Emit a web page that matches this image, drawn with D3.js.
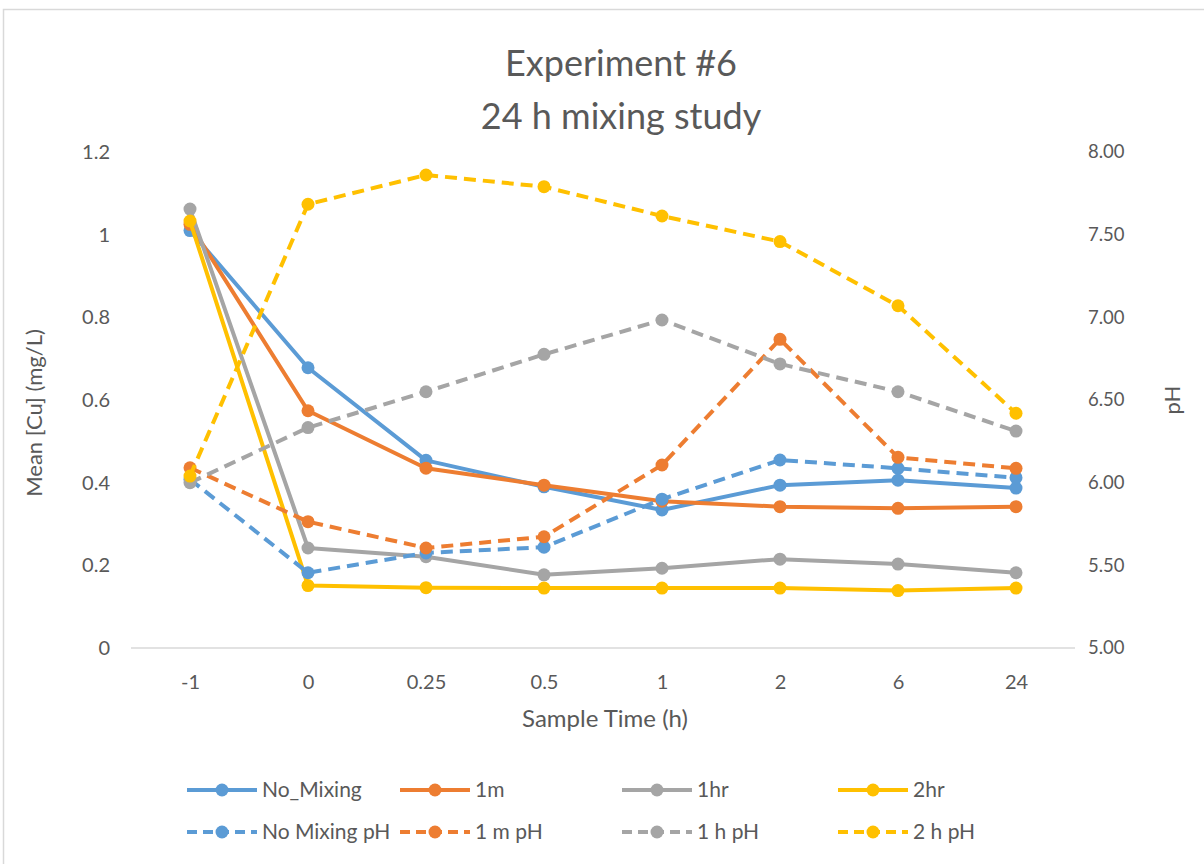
<!DOCTYPE html>
<html>
<head>
<meta charset="utf-8">
<script src="https://cdn.jsdelivr.net/npm/d3@7"></script>
<style>
  body { margin: 0; background: #fff; }
  svg { font-family: Lato, "Open Sans", sans-serif; }
</style>
</head>
<body>
<script>
const categories = ['-1', '0', '0.25', '0.5', '1', '2', '6', '24'];

// copper, left axis (mg/L)
const noMixing = [1.01, 0.678, 0.454, 0.39, 0.334, 0.394, 0.406, 0.387];
const oneMin   = [1.025, 0.574, 0.435, 0.394, 0.355, 0.342, 0.338, 0.342];
const oneHr    = [1.062, 0.242, 0.221, 0.177, 0.193, 0.215, 0.203, 0.182];
const twoHr    = [1.033, 0.151, 0.146, 0.145, 0.145, 0.145, 0.139, 0.145];

// pH, right axis
const noMixingPH = [6.02, 5.455, 5.575, 5.61, 5.90, 6.137, 6.087, 6.03];
const oneMinPH   = [6.09, 5.764, 5.605, 5.673, 6.107, 6.867, 6.153, 6.087];
const oneHrPH    = [6.00, 6.333, 6.55, 6.776, 6.984, 6.718, 6.55, 6.312];
const twoHrPH    = [6.04, 7.684, 7.861, 7.79, 7.613, 7.458, 7.07, 6.42];

const leftTicks = [0, 0.2, 0.4, 0.6, 0.8, 1, 1.2];
const rightTicks = [5, 5.5, 6, 6.5, 7, 7.5, 8];

const series = [
  { name: 'No_Mixing', values: noMixing, color: '#5B9BD5', axis: 'left', dash: false },
  { name: '1m', values: oneMin, color: '#ED7D31', axis: 'left', dash: false },
  { name: '1hr', values: oneHr, color: '#A5A5A5', axis: 'left', dash: false },
  { name: '2hr', values: twoHr, color: '#FFC000', axis: 'left', dash: false },
  { name: 'No Mixing pH', values: noMixingPH, color: '#5B9BD5', axis: 'right', dash: true },
  { name: '1 m pH', values: oneMinPH, color: '#ED7D31', axis: 'right', dash: true },
  { name: '1 h pH', values: oneHrPH, color: '#A5A5A5', axis: 'right', dash: true },
  { name: '2 h pH', values: twoHrPH, color: '#FFC000', axis: 'right', dash: true }
];

const width = 1204, height = 864;
const plot = { left: 131, right: 1075, top: 152, bottom: 648 };
const textColor = '#595959';

const svg = d3.select('body').append('svg')
  .attr('width', width)
  .attr('height', height);

// chart frame
svg.append('rect')
  .attr('x', 3.5).attr('y', 9.5)
  .attr('width', 1220).attr('height', 880)
  .attr('fill', '#fff')
  .attr('stroke', '#d9d9d9')
  .attr('stroke-width', 1.5);

let x = d3.scalePoint().domain(categories).range([plot.left, plot.right]).padding(0.5);
let yL = d3.scaleLinear().domain([0, 1.2]).range([plot.bottom, plot.top]);
let yR = d3.scaleLinear().domain([5, 8]).range([plot.bottom, plot.top]);

// title
svg.append('text')
  .attr('x', 621).attr('y', 76)
  .attr('text-anchor', 'middle')
  .style('font-size', '36px')
  .style('fill', textColor)
  .text('Experiment #6');
svg.append('text')
  .attr('x', 621).attr('y', 129)
  .attr('text-anchor', 'middle')
  .style('font-size', '36px')
  .style('fill', textColor)
  .text('24 h mixing study');

// left axis
let leftAxis = svg.append('g')
  .attr('transform', 'translate(' + plot.left + ',0)')
  .call(d3.axisLeft(yL).tickValues(leftTicks).tickSize(0).tickPadding(21)
    .tickFormat(d => d3.format('')(+d.toFixed(1))));
leftAxis.select('.domain').remove();
leftAxis.selectAll('text').style('font-size', '20px').style('fill', textColor)
  .style('font-family', 'Lato, "Open Sans", sans-serif');

// right axis
let rightAxis = svg.append('g')
  .attr('transform', 'translate(' + plot.right + ',0)')
  .call(d3.axisRight(yR).tickValues(rightTicks).tickSize(0).tickPadding(13)
    .tickFormat(d3.format('.2f')));
rightAxis.select('.domain').remove();
rightAxis.selectAll('text').style('font-size', '18.5px').style('fill', textColor)
  .style('font-family', 'Lato, "Open Sans", sans-serif');

// bottom axis
let bottomAxis = svg.append('g')
  .attr('transform', 'translate(0,' + plot.bottom + ')')
  .call(d3.axisBottom(x).tickSize(0).tickPadding(27));
bottomAxis.select('.domain')
  .attr('d', 'M' + plot.left + ',0H' + plot.right)
  .attr('stroke', '#d9d9d9').attr('stroke-width', 1.5);
bottomAxis.selectAll('text').style('font-size', '20px').style('fill', textColor)
  .style('font-family', 'Lato, "Open Sans", sans-serif');

// axis titles
svg.append('text')
  .attr('transform', 'translate(42,' + 413 + ') rotate(-90)')
  .attr('text-anchor', 'middle')
  .style('font-size', '22px')
  .style('fill', textColor)
  .text('Mean [Cu] (mg/L)');
svg.append('text')
  .attr('transform', 'translate(1180,' + 400 + ') rotate(-90)')
  .attr('text-anchor', 'middle')
  .style('font-size', '22px')
  .style('fill', textColor)
  .text('pH');
svg.append('text')
  .attr('x', 605).attr('y', 727)
  .attr('text-anchor', 'middle')
  .style('font-size', '24px')
  .style('fill', textColor)
  .text('Sample Time (h)');

const dashPattern = '12,7';

series.forEach(function (s) {
  let y = s.axis === 'left' ? yL : yR;
  let line = d3.line()
    .x(function (d, i) { return x(categories[i]); })
    .y(function (d) { return y(d); });

  let g = svg.append('g').attr('class', 'series');
  g.append('path')
    .datum(s.values)
    .attr('d', line)
    .attr('fill', 'none')
    .attr('stroke', s.color)
    .attr('stroke-width', 4)
    .attr('stroke-linejoin', 'round')
    .attr('stroke-dasharray', s.dash ? dashPattern : null);

  g.selectAll('circle')
    .data(s.values)
    .enter()
    .append('circle')
    .attr('cx', function (d, i) { return x(categories[i]); })
    .attr('cy', function (d) { return y(d); })
    .attr('r', 6.5)
    .attr('fill', s.color);
});

// legend
const legendCols = [187, 400, 622, 838];
const legendRows = [790, 832];

let legend = svg.append('g').attr('class', 'legend')
  .selectAll('g')
  .data(series)
  .enter()
  .append('g')
  .attr('transform', function (d, i) {
    return 'translate(' + legendCols[i % 4] + ',' + legendRows[Math.floor(i / 4)] + ')';
  });

legend.append('line')
  .attr('x1', 0).attr('x2', 70)
  .attr('y1', 0).attr('y2', 0)
  .attr('stroke', d => d.color)
  .attr('stroke-width', 4)
  .attr('stroke-dasharray', d => d.dash ? '10,6' : null);

legend.append('circle')
  .attr('cx', 35).attr('cy', 0).attr('r', 6.5)
  .attr('fill', d => d.color);

legend.append('text')
  .attr('x', 75).attr('y', 0)
  .attr('dy', '0.35em')
  .style('font-size', '21px')
  .style('fill', textColor)
  .text(d => d.name);
</script>
</body>
</html>
